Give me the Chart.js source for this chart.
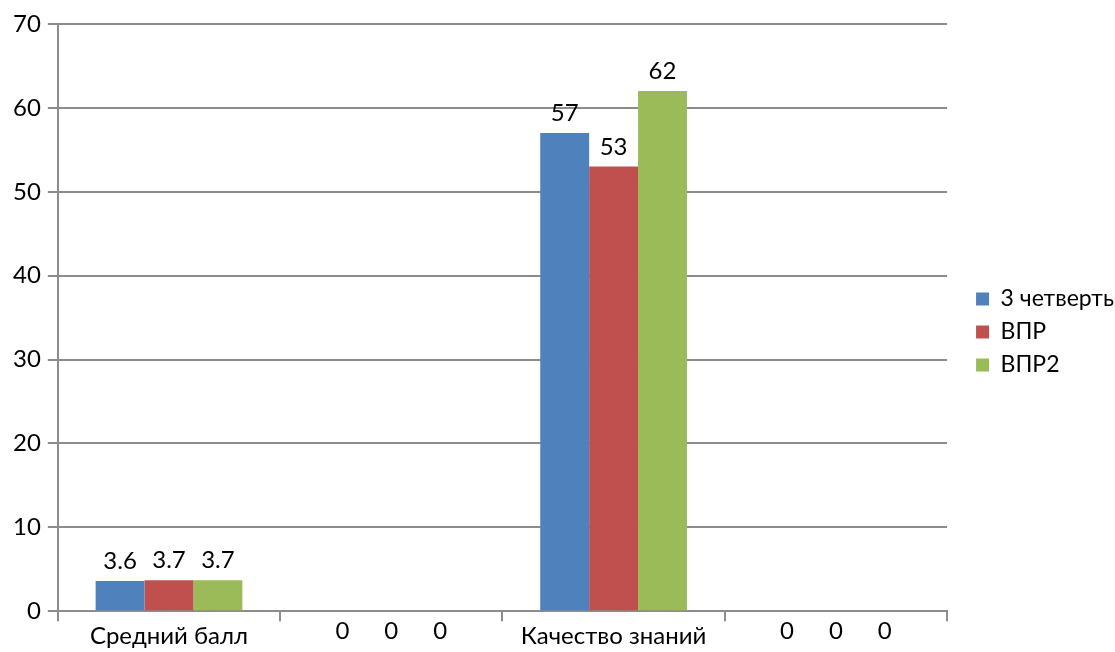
<!DOCTYPE html>
<html>
<head>
<meta charset="utf-8">
<script src="https://cdn.jsdelivr.net/npm/chart.js@4/dist/chart.umd.min.js"></script>
<style>
  html, body { margin: 0; padding: 0; background: #fff; }
  #wrap { width: 1115px; height: 652px; }
</style>
</head>
<body>
<div id="wrap"><canvas id="chart" width="1115" height="652"></canvas></div>
<script>
const categories = ['Средний балл', '', 'Качество знаний', ''];
const seriesNames = ['3 четверть', 'ВПР', 'ВПР2'];
const quarter3 = [3.6, 0, 57, 0];
const vpr = [3.7, 0, 53, 0];
const vpr2 = [3.7, 0, 62, 0];
const yTicks = [0, 10, 20, 30, 40, 50, 60, 70];

const colors = ['#4F81BD', '#C0504D', '#9BBB59'];
const fontFamily = 'Lato, "Noto Sans", sans-serif';
const fontSize = 24;
const axisGray = '#8c8c8c';

// value labels: above the bar, zeros sit under the axis like in the original
const valueLabels = {
    id: 'valueLabels',
    afterDatasetsDraw(chart) {
        const ctx = chart.ctx;
        const baseY = chart.scales.y.getPixelForValue(0);
        ctx.save();
        ctx.font = fontSize + 'px ' + fontFamily;
        ctx.fillStyle = '#000';
        ctx.textAlign = 'center';
        chart.data.datasets.forEach((ds, i) => {
            chart.getDatasetMeta(i).data.forEach((bar, j) => {
                const v = ds.data[j];
                if (v === 0) {
                    ctx.textBaseline = 'middle';
                    ctx.fillText(String(v), bar.x, baseY + 20);
                } else {
                    ctx.textBaseline = 'alphabetic';
                    ctx.fillText(String(v), bar.x, bar.y - 12);
                }
            });
        });
        ctx.restore();
    }
};

// wider gap between the plot and the legend swatches
const legendGap = {
    id: 'legendGap',
    afterInit(chart) {
        const legend = chart.legend;
        const fit = legend.fit.bind(legend);
        legend.fit = function () {
            fit();
            this.width += 10;
        };
    },
    afterLayout(chart) {
        const legend = chart.legend;
        legend.left += 19;
        legend.top -= 6;
        legend.bottom -= 6;
    }
};

new Chart(document.getElementById('chart').getContext('2d'), {
    type: 'bar',
    data: {
        labels: categories,
        datasets: [
            { label: seriesNames[0], data: quarter3, backgroundColor: colors[0] },
            { label: seriesNames[1], data: vpr, backgroundColor: colors[1] },
            { label: seriesNames[2], data: vpr2, backgroundColor: colors[2] }
        ]
    },
    options: {
        responsive: false,
        animation: false,
        layout: { padding: { top: 24, left: 6, right: 0, bottom: 0 } },
        datasets: {
            bar: { barPercentage: 1, categoryPercentage: 0.66 }
        },
        scales: {
            x: {
                grid: {
                    offset: true,
                    drawOnChartArea: false,
                    color: axisGray,
                    lineWidth: 2,
                    tickLength: 10
                },
                border: { color: axisGray, width: 2 },
                ticks: {
                    color: '#000',
                    font: { family: fontFamily, size: fontSize },
                    padding: 1,
                    maxRotation: 0
                }
            },
            y: {
                min: 0,
                max: 70,
                afterBuildTicks(axis) {
                    axis.ticks = yTicks.map(v => ({ value: v }));
                },
                grid: {
                    color: axisGray,
                    lineWidth: 2,
                    tickLength: 10
                },
                border: { color: axisGray, width: 2 },
                ticks: {
                    color: '#000',
                    font: { family: fontFamily, size: fontSize },
                    padding: 7
                }
            }
        },
        plugins: {
            legend: {
                position: 'right',
                labels: {
                    boxWidth: 13,
                    boxHeight: 13,
                    padding: 10,
                    color: '#000',
                    font: { family: fontFamily, size: 23 }
                }
            },
            tooltip: { enabled: false }
        }
    },
    plugins: [valueLabels, legendGap]
});
</script>
</body>
</html>
